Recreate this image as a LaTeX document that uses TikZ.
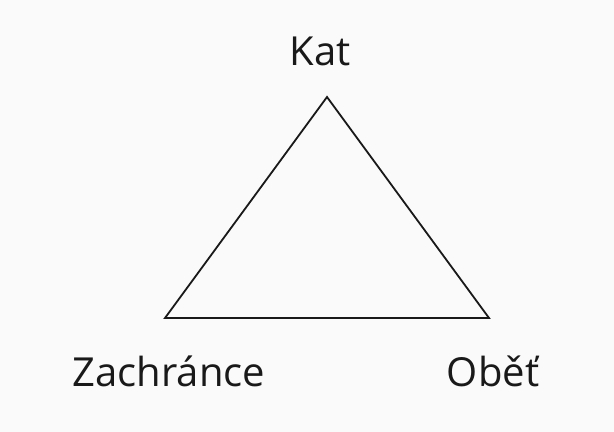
\documentclass[tikz,border=0pt]{standalone}
\usepackage{fontspec}
\setmainfont{Open Sans}
\usepackage{tikz}
\usetikzlibrary{positioning, backgrounds}
\definecolor{paper}{RGB}{250, 250, 250}
\definecolor{ink}{RGB}{25, 25, 25}

\begin{document}
\begin{tikzpicture}[
    x=0.5pt, y=-0.5pt,
    role/.style={font=\fontsize{20}{24}\selectfont, text=ink, inner sep=0pt, anchor=base},
    edge/.style={draw=ink, line width=0.9pt, line join=miter},
  ]

  % Page
  \fill[paper] (0,0) rectangle (614,432);
  \useasboundingbox (0,0) rectangle (614,432);

  % Corners
  \coordinate (top) at (327,97);
  \coordinate (left) at (165,318);
  \coordinate (right) at (489,318);

  % Roles
  \node[role] (kat) at (320,66) {Kat};
  \node[role] (zachr) at (169,386) {Zachránce};
  \node[role] (obet) at (493,386) {Oběť};

  % Triangle
  \draw[edge] (top) -- (left) -- (right) -- cycle;

\end{tikzpicture}
\end{document}
